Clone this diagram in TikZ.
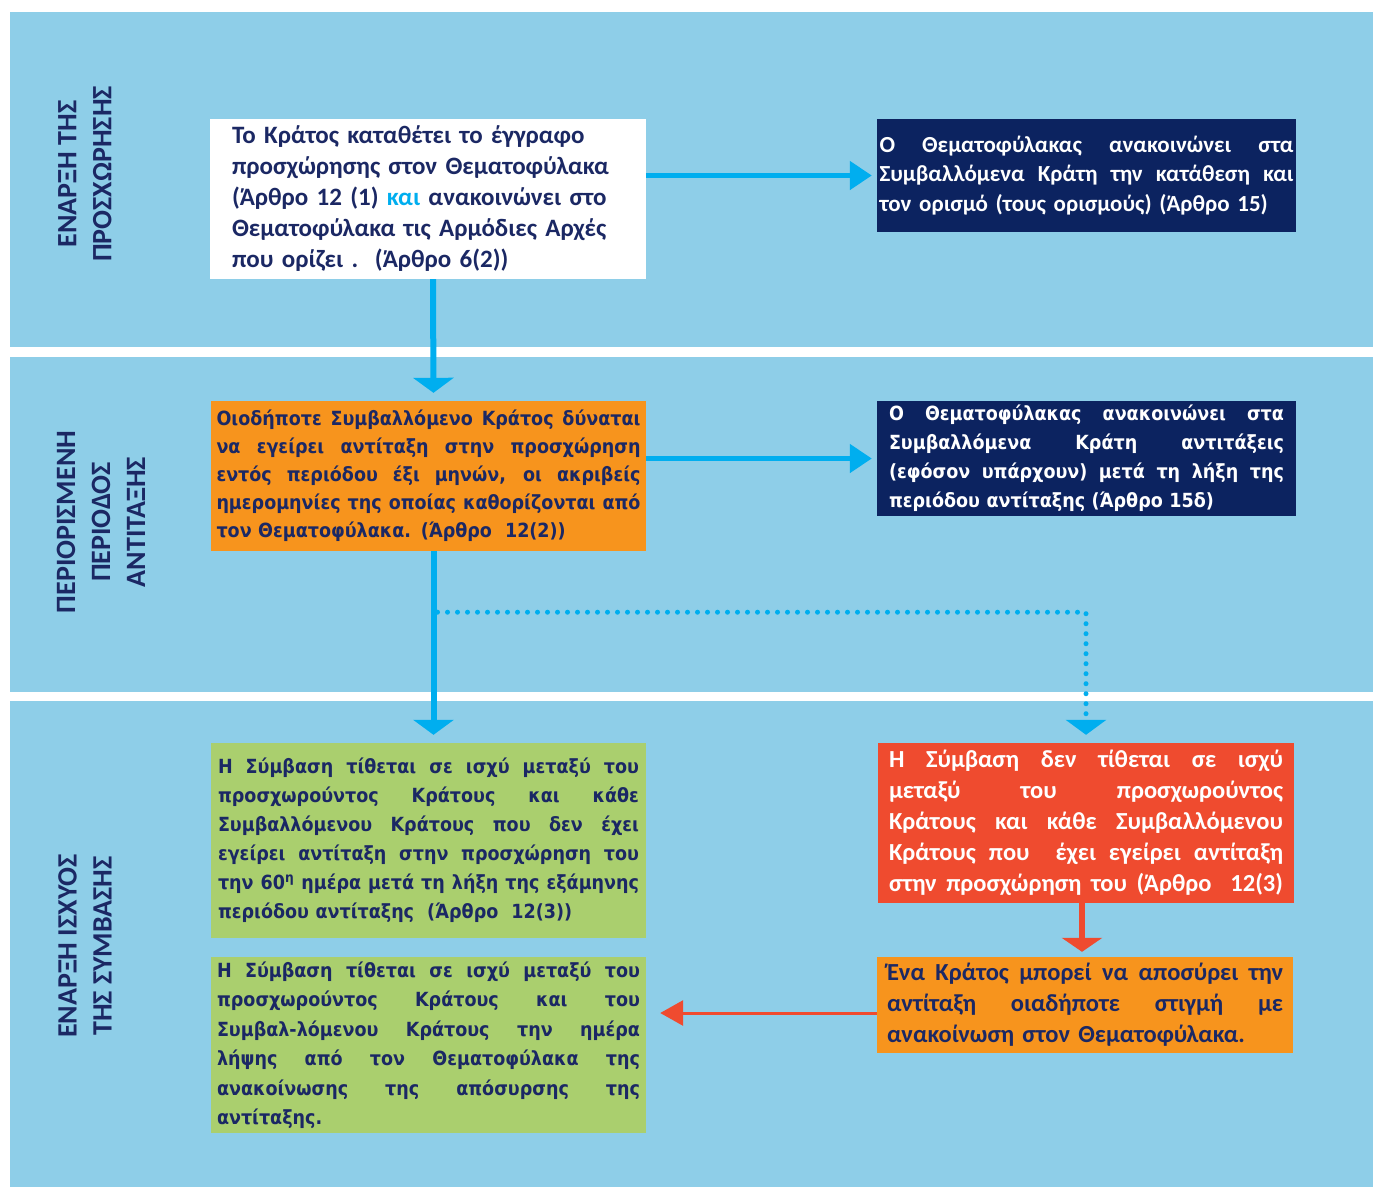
\documentclass[tikz,border=0pt]{standalone}
\usepackage{fontspec}
\setmainfont{Carlito}
\newfontfamily\calfont{Carlito}
\newfontfamily\tahfont[FakeStretch=0.9]{DejaVu Sans}
\usetikzlibrary{arrows.meta}
\definecolor{bandblue}{RGB}{142,206,232}
\definecolor{arrowblue}{RGB}{0,174,239}
\definecolor{navybox}{RGB}{12,35,96}
\definecolor{orangebox}{RGB}{247,148,29}
\definecolor{greenbox}{RGB}{170,207,110}
\definecolor{redbox}{RGB}{239,75,47}
\definecolor{txtnavy}{RGB}{27,40,100}
\newlength\jw
\newcommand\jline[1]{{\spaceskip=0pt\xspaceskip=0pt\makebox[\jw][s]{#1}}}
\begin{document}
\begin{tikzpicture}[x=1pt,y=-1pt,
  box/.style={rectangle, inner sep=0pt, align=left, anchor=center},
  calbox/.style={font=\calfont\bfseries\fontsize{24.5}{31}\selectfont},
  tahbox/.style={font=\tahfont\bfseries\fontsize{19.5}{29}\selectfont},
  lab/.style={rotate=90, align=center, text=txtnavy, inner sep=0pt,
    font=\calfont\bfseries\fontsize{28}{35}\selectfont},
  barrow/.style={draw=arrowblue, line width=5pt, -{Triangle[width=28pt,length=22pt]}},
  varrow/.style={draw=arrowblue, line width=6pt, -{Triangle[width=40pt,length=15pt]}},
  dotarrow/.style={draw=arrowblue, line width=5pt, line cap=round, dash pattern=on 0pt off 10pt, -{Triangle[width=40pt,length=15pt]}},
  rvarrow/.style={draw=redbox, line width=6pt, -{Triangle[width=40pt,length=14pt]}},
  rharrow/.style={draw=redbox, line width=3pt, -{Triangle[width=25pt,length=23pt]}}
]
\fill[white] (0,0) rectangle (1373,1187);
\useasboundingbox (0,0) rectangle (1373,1187);
% bands
\fill[bandblue] (10,12) rectangle (1373,347);
\fill[bandblue] (10,357) rectangle (1373,692);
\fill[bandblue] (10,701) rectangle (1373,1187);
% side labels
\node[lab] (L1) at (85,174) {ΕΝΑΡΞΗ ΤΗΣ\\ΠΡΟΣΧΩΡΗΣΗΣ};
\node[lab] (L2) at (101,522) {ΠΕΡΙΟΡΙΣΜΕΝΗ\\ΠΕΡΙΟΔΟΣ\\ΑΝΤΙΤΑΞΗΣ};
\node[lab] (L3) at (85,946) {ΕΝΑΡΞΗ ΙΣΧΥΟΣ\\ΤΗΣ ΣΥΜΒΑΣΗΣ};
% boxes
\node[box, fill=white, text=txtnavy, minimum width=436pt, minimum height=160pt, text width=392pt,
  font=\calfont\bfseries\fontsize{25}{31}\selectfont] (A) at (428,199)
  {Το Κράτος καταθέτει το έγγραφο\\
   προσχώρησης στον Θεματοφύλακα\\
   (Άρθρο 12 (1) \textcolor{arrowblue}{και} ανακοινώνει στο\\
   Θεματοφύλακα τις Αρμόδιες Αρχές\\
   που ορίζει .\ \ (Άρθρο 6(2))};
\node[box, fill=navybox, text=white, minimum width=419pt, minimum height=113pt, text width=414pt,
  font=\calfont\bfseries\fontsize{23}{29.5}\selectfont] (B) at (1086.5,175.5)
  {\setlength\jw{414pt}%
   \jline{Ο Θεματοφύλακας ανακοινώνει στα}\\
   \jline{Συμβαλλόμενα Κράτη την κατάθεση και}\\
   τον ορισμό (τους ορισμούς) (Άρθρο 15)};
\node[box, fill=orangebox, text=txtnavy, minimum width=435pt, minimum height=150pt, text width=424pt,
  font=\tahfont\bfseries\fontsize{19.5}{28}\selectfont] (C) at (428.5,476)
  {\setlength\jw{424pt}%
   \jline{Οιοδήποτε Συμβαλλόμενο Κράτος δύναται}\\
   \jline{να εγείρει αντίταξη στην προσχώρηση}\\
   \jline{εντός περιόδου έξι μηνών, οι ακριβείς}\\
   \jline{ημερομηνίες της οποίας καθορίζονται από}\\
   τον Θεματοφύλακα. (Άρθρο\ \ 12(2))};
\node[box, tahbox, fill=navybox, text=white, minimum width=419pt, minimum height=115pt, text width=395pt] (D) at (1086.5,458.5)
  {\setlength\jw{395pt}%
   \jline{Ο Θεματοφύλακας ανακοινώνει στα}\\
   \jline{Συμβαλλόμενα Κράτη αντιτάξεις}\\
   \jline{(εφόσον υπάρχουν) μετά τη λήξη της}\\
   περιόδου αντίταξης (Άρθρο 15δ)};
\node[box, tahbox, fill=greenbox, text=txtnavy, minimum width=435pt, minimum height=195pt, text width=421pt] (E) at (428.5,840.5)
  {\setlength\jw{421pt}%
   \jline{Η Σύμβαση τίθεται σε ισχύ μεταξύ του}\\
   \jline{προσχωρούντος Κράτους και κάθε}\\
   \jline{Συμβαλλόμενου Κράτους που δεν έχει}\\
   \jline{εγείρει αντίταξη στην προσχώρηση του}\\
   \jline{την 60\textsuperscript{η} ημέρα μετά τη λήξη της εξάμηνης}\\
   περιόδου αντίταξης\ \ (Άρθρο\ \ 12(3))};
\node[box, calbox, fill=redbox, text=white, minimum width=416pt, minimum height=160pt, text width=394pt] (F) at (1086,823)
  {\setlength\jw{394pt}%
   \jline{Η Σύμβαση δεν τίθεται σε ισχύ}\\
   \jline{μεταξύ του προσχωρούντος}\\
   \jline{Κράτους και κάθε Συμβαλλόμενου}\\
   \jline{Κράτους που\ \ έχει εγείρει αντίταξη}\\
   \jline{στην προσχώρηση του (Άρθρο\ \ 12(3)}};
\node[box, fill=greenbox, text=txtnavy, minimum width=435pt, minimum height=176pt, text width=423pt,
  font=\tahfont\bfseries\fontsize{19.5}{29.5}\selectfont] (G) at (428.5,1045)
  {\setlength\jw{423pt}%
   \jline{Η Σύμβαση τίθεται σε ισχύ μεταξύ του}\\
   \jline{προσχωρούντος Κράτους και του}\\
   \jline{Συμβαλ-λόμενου Κράτους την ημέρα}\\
   \jline{λήψης από τον Θεματοφύλακα της}\\
   \jline{ανακοίνωσης της απόσυρσης της}\\
   αντίταξης.};
\node[box, calbox, fill=orangebox, text=txtnavy, minimum width=416pt, minimum height=96pt, text width=396pt] (H) at (1085,1005)
  {\setlength\jw{396pt}%
   \jline{Ένα Κράτος μπορεί να αποσύρει την}\\
   \jline{αντίταξη οιαδήποτε στιγμή με}\\
   ανακοίνωση στον Θεματοφύλακα.};
% connectors
\draw[barrow, shorten >=5pt] (A.east |- B.west) -- (B.west);
\draw[barrow, shorten >=5pt] (C.east |- D.west) -- (D.west);
\draw[varrow, shorten >=8pt] ([xshift=5pt]A.south) -- ([xshift=5pt]C.north);
\draw[varrow, shorten >=8pt] ([xshift=5pt]C.south) -- ([xshift=5pt]E.north);
\coordinate (split) at ([xshift=9pt,yshift=-61pt]C.south);
\draw[dotarrow] (split) -| ([yshift=8pt]F.north);
\draw[rvarrow, shorten >=5pt] ([xshift=-4pt]F.south) -- ([xshift=-3pt]H.north);
\coordinate (hstart) at ([yshift=-8pt]H.west);
\draw[rharrow, shorten >=14pt] (hstart) -- (G.east |- hstart);
\end{tikzpicture}
\end{document}
